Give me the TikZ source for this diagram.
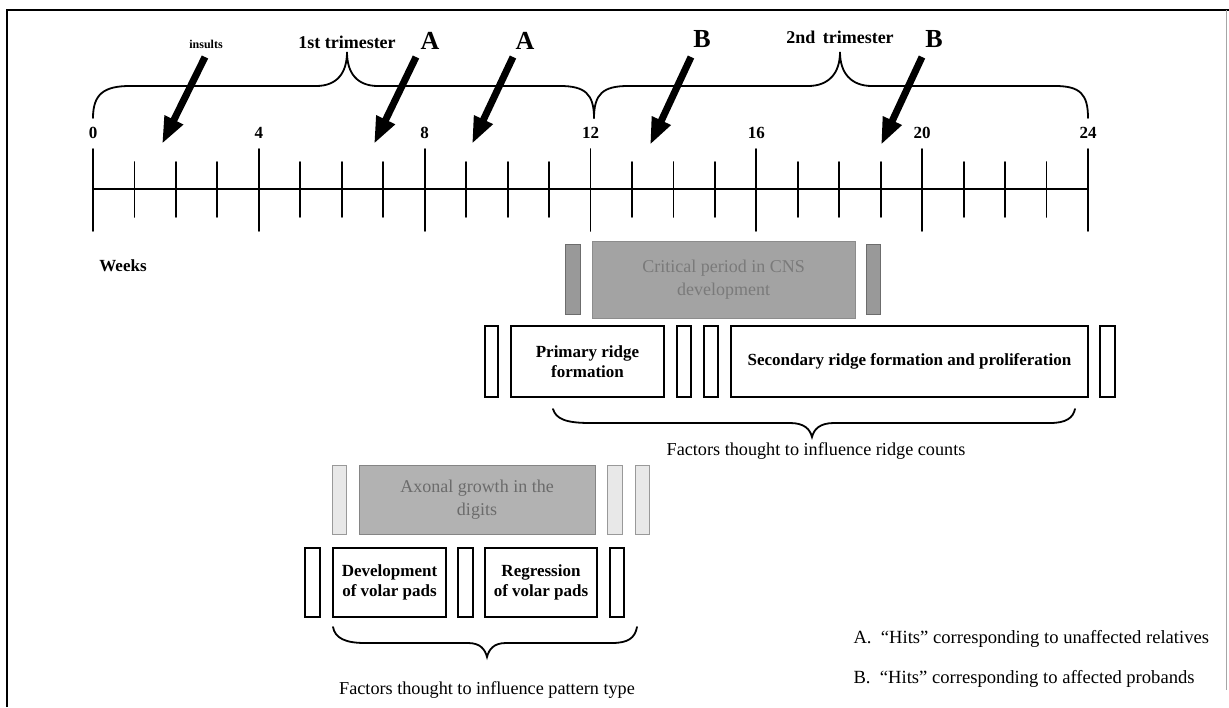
\documentclass[tikz,border=0pt]{standalone}
\usepackage{fontspec}
\setmainfont{Liberation Serif}
\usetikzlibrary{arrows.meta,calc}
\begin{document}
\begin{tikzpicture}[x=1pt,y=-1pt,
  ln/.style={line width=1.8pt, line cap=round},
  arr/.style={line width=7pt, -{Triangle[length=27pt,width=19pt]}},
  wbox/.style={draw, line width=1.8pt, fill=white, inner sep=0pt, align=center,
     font=\fontsize{17}{20}\selectfont\bfseries},
  cnsbar/.style={draw=gray!85!black, line width=1pt, fill=black!40, inner sep=0pt},
  cnsbox/.style={draw=black!45, line width=1pt, fill=black!36, inner sep=0pt, align=center,
     text=black!52, font=\fontsize{18}{23}\selectfont},
  axbar/.style={draw=black!40, line width=1pt, fill=black!9, inner sep=0pt},
  axbox/.style={draw=black!48, line width=1pt, fill=black!30, inner sep=0pt, align=center,
     text=black!58, font=\fontsize{18}{23}\selectfont},
  num/.style={font=\fontsize{17}{17}\selectfont\bfseries},
  big/.style={font=\fontsize{26}{26}\selectfont\bfseries},
  lbl/.style={font=\fontsize{18.2}{20}\selectfont},
  leg/.style={font=\fontsize{18.6}{20}\selectfont}
]
\useasboundingbox (0,0) rectangle (1229,707);
\fill[white] (0,0) rectangle (1229,707);
% frame
\draw[line width=1.6pt] (7,707) -- (7,10) -- (1229,10);
\draw[line width=0.8pt, black!35] (1226,10) -- (1226,690);

% timeline
\foreach \w in {0,...,24}{
  \coordinate (w\w) at ({93+41.46*\w},189);
}
\draw[ln] (w0) -- (w24);
\foreach \w in {1,2,3,5,6,7,9,10,11,13,14,15,17,18,19,21,22,23}{
  \draw[ln] ($(w\w)+(0,-27)$) -- ($(w\w)+(0,28)$);
}
\foreach \w in {0,4,8,12,16,20,24}{
  \draw[ln] ($(w\w)+(0,-40)$) -- ($(w\w)+(0,42)$);
  \node[num] (n\w) at ($(w\w)+(0,-56)$) {\w};
}

% braces over trimesters
\draw[ln] (93,118) .. controls (93,94) and (104,86) .. (130,86) -- (316,86)
  .. controls (337,86) and (347,73) .. (347,52)
  .. controls (347,73) and (357,86) .. (378,86) -- (560,86)
  .. controls (585,86) and (594,94) .. (594,118);
\draw[ln] (594,118) .. controls (594,94) and (603,86) .. (628,86) -- (808,86)
  .. controls (829,86) and (840,73) .. (840,52)
  .. controls (840,73) and (851,86) .. (872,86) -- (1055,86)
  .. controls (1080,86) and (1088,94) .. (1088,118);

\node[font=\fontsize{18}{18}\selectfont\bfseries] (t1) at (347,42) {1st trimester};
\node[font=\fontsize{18}{18}\selectfont\bfseries] (t2) at (840,37) {2nd\, trimester};
\node[font=\fontsize{12}{12}\selectfont\bfseries] (ins) at (206,44) {insults};
\node[big] (A1) at (430,41) {A};
\node[big] (A2) at (525,41) {A};
\node[big] (B1) at (702,39) {B};
\node[big] (B2) at (934,39) {B};

% hit arrows
\coordinate (s0) at (205,57);  \coordinate (e0) at (162,144);
\coordinate (s1) at (416,57);  \coordinate (e1) at (374,144);
\coordinate (s2) at (513,57);  \coordinate (e2) at (472,144);
\coordinate (s3) at (691,57);  \coordinate (e3) at (650,145);
\coordinate (s4) at (922,57);  \coordinate (e4) at (881,145);
\foreach \i in {0,...,4}{ \draw[arr] (s\i) -- (e\i); }

\node[font=\fontsize{17}{17}\selectfont\bfseries] (weeks) at (123,266) {Weeks};

% CNS row
\node[cnsbar, minimum width=15, minimum height=70] (cnsL) at (572.5,279) {};
\node[cnsbox, minimum width=263, minimum height=77] (cns) at (723.5,279.5) {Critical period in CNS\\development};
\node[cnsbar, minimum width=14, minimum height=70] (cnsR) at (873,279) {};

% ridge row
\node[wbox, minimum width=13, minimum height=71] (r1) at (491.5,361.5) {};
\node[wbox, minimum width=153, minimum height=71] (prim) at (587.5,361.5) {Primary ridge\\formation};
\node[wbox, minimum width=14, minimum height=71] (r2) at (684,361.5) {};
\node[wbox, minimum width=14, minimum height=71] (r3) at (711,361.5) {};
\node[wbox, minimum width=357, minimum height=71] (sec) at (909.5,361.5) {Secondary ridge formation and proliferation};
\node[wbox, minimum width=15, minimum height=71] (r4) at (1107.5,361.5) {};

\draw[ln] (553,409) .. controls (556,419) and (566,423) .. (590,423) -- (790,423)
  .. controls (804,423) and (810,429) .. (812,437)
  .. controls (814,429) and (820,423) .. (834,423) -- (1050,423)
  .. controls (1066,423) and (1073,418) .. (1075,409);
\node[lbl] (rc) at (816,451) {Factors thought to influence ridge counts};

% axonal row
\node[axbar, minimum width=14, minimum height=69] (aL) at (339,499.5) {};
\node[axbox, minimum width=236, minimum height=69] (ax) at (477,499.5) {Axonal growth in the\\digits};
\node[axbar, minimum width=15, minimum height=69] (aR1) at (614.5,499.5) {};
\node[axbar, minimum width=14, minimum height=69] (aR2) at (642,499.5) {};

% volar pad row
\node[wbox, minimum width=15, minimum height=69] (d1) at (312.5,582.5) {};
\node[wbox, minimum width=113, minimum height=69] (dev) at (389.5,582.5) {Development\\of volar pads};
\node[wbox, minimum width=15, minimum height=69] (d2) at (465.5,582.5) {};
\node[wbox, minimum width=112, minimum height=69] (reg) at (541,582.5) {Regression\\of volar pads};
\node[wbox, minimum width=14, minimum height=69] (d3) at (617,582.5) {};

\draw[ln] (333,627) .. controls (335,638) and (345,643) .. (365,643) -- (468,643)
  .. controls (480,643) and (485,649) .. (487,657)
  .. controls (489,649) and (494,643) .. (506,643) -- (612,643)
  .. controls (628,643) and (635,638) .. (637,627);
\node[lbl] (pt) at (487,690) {Factors thought to influence pattern type};

% legend
\node[leg, anchor=west] (legA) at (850,639) {A.\ \ “Hits” corresponding to unaffected relatives};
\node[leg, anchor=west] (legB) at (850,679) {B.\ \ “Hits” corresponding to affected probands};
\end{tikzpicture}
\end{document}
